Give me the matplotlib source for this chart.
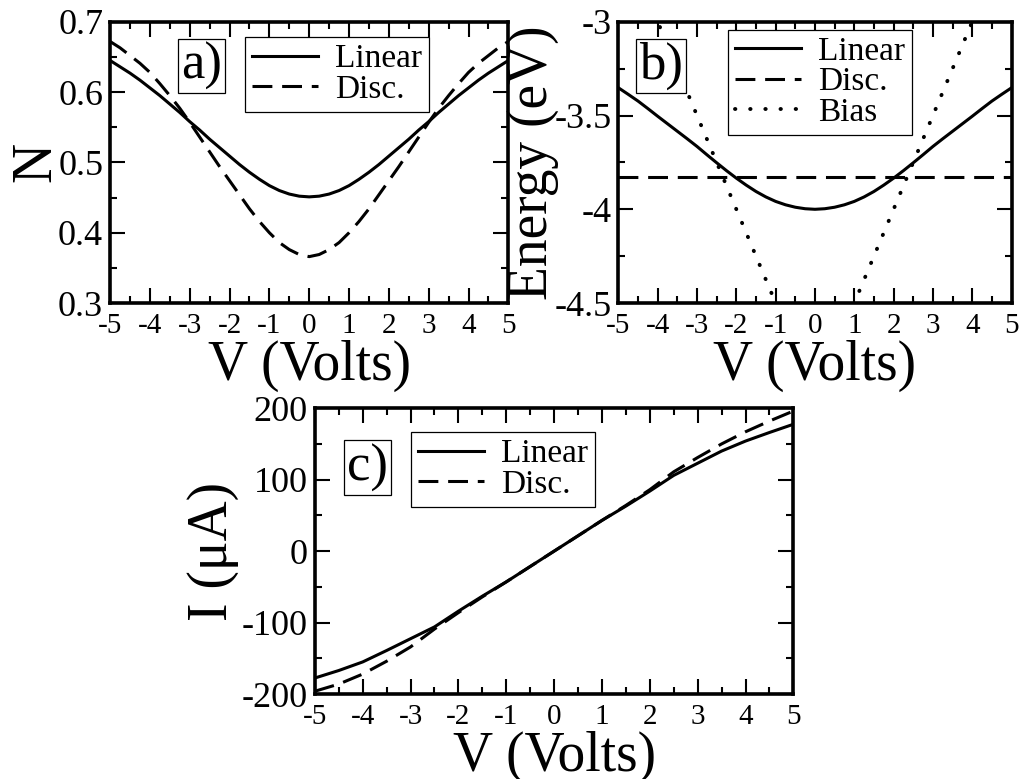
import matplotlib
matplotlib.use('Agg')
import matplotlib.pyplot as plt
from matplotlib.ticker import MultipleLocator, FormatStrFormatter

plt.rcParams['font.family'] = ['Liberation Serif', 'DejaVu Serif']
plt.rcParams['axes.unicode_minus'] = False

# bias voltage grids (Volts)
volts_fine = [-5, -4.75, -4.5, -4.25, -4, -3.75, -3.5, -3.25, -3, -2.75, -2.5,
              -2.25, -2, -1.75, -1.5, -1.25, -1, -0.75, -0.5, -0.25, 0,
              0.25, 0.5, 0.75, 1, 1.25, 1.5, 1.75, 2, 2.25, 2.5,
              2.75, 3, 3.25, 3.5, 3.75, 4, 4.25, 4.5, 4.75, 5]
volts = [-5, -4.5, -4, -3.5, -3, -2.5, -2, -1.5, -1, -0.5, 0,
         0.5, 1, 1.5, 2, 2.5, 3, 3.5, 4, 4.5, 5]

# a) occupation N
n_linear = [0.645, 0.636, 0.627, 0.617, 0.606, 0.595, 0.583, 0.571, 0.558, 0.546, 0.533,
            0.521, 0.509, 0.497, 0.486, 0.476, 0.467, 0.460, 0.455, 0.452, 0.451,
            0.452, 0.455, 0.460, 0.467, 0.476, 0.486, 0.497, 0.509, 0.521, 0.533,
            0.546, 0.558, 0.571, 0.583, 0.595, 0.606, 0.617, 0.627, 0.636, 0.645]
n_disc = [0.672, 0.663, 0.652, 0.641, 0.628, 0.612, 0.595, 0.577, 0.557, 0.536, 0.515,
          0.494, 0.474, 0.454, 0.434, 0.416, 0.400, 0.386, 0.376, 0.369, 0.366,
          0.369, 0.376, 0.386, 0.400, 0.416, 0.434, 0.454, 0.474, 0.494, 0.515,
          0.536, 0.557, 0.577, 0.595, 0.612, 0.628, 0.641, 0.652, 0.663, 0.672]

# b) level energy (eV)
e_linear = [-3.352, -3.387, -3.423, -3.463, -3.504, -3.544, -3.584, -3.624, -3.665, -3.709, -3.752,
            -3.794, -3.834, -3.871, -3.905, -3.934, -3.958, -3.976, -3.989, -3.997, -4.0,
            -3.997, -3.989, -3.976, -3.958, -3.934, -3.905, -3.871, -3.834, -3.794, -3.752,
            -3.709, -3.665, -3.624, -3.584, -3.544, -3.504, -3.463, -3.423, -3.387, -3.352]
e_disc_v = [-5, 5]
e_disc = [-3.83, -3.83]
bias_v = [-5, 0, 5]
bias_e = [-2.5, -5.0, -2.5]

# c) current (uA)
i_linear = [-177.5, -167, -155, -139, -122.5, -106, -84, -63, -43, -21.5, 0,
            21.5, 43, 63, 84, 106, 123, 140, 154, 166, 177.5]
i_disc = [-196, -186, -172, -154, -134, -109, -86, -64, -43, -21.5, 0,
          21.5, 43, 64, 86, 111, 131, 150, 167, 182, 196]

LW = 2.2
DASH = (0, (6.5, 3.2))
DOT = (0, (0.1, 3.8))
XTICK_FS = 21
YTICK_FS = 26
LABEL_FS = 40


def styleAxis(ax, ymin, ymax, ymaj, ymin_step):
	ax.set_xlim(-5, 5)
	ax.set_ylim(ymin, ymax)
	ax.xaxis.set_major_locator(MultipleLocator(1))
	ax.xaxis.set_minor_locator(MultipleLocator(0.5))
	ax.yaxis.set_major_locator(MultipleLocator(ymaj))
	ax.yaxis.set_minor_locator(MultipleLocator(ymin_step))
	ax.xaxis.set_major_formatter(FormatStrFormatter('%g'))
	ax.yaxis.set_major_formatter(FormatStrFormatter('%g'))
	ax.tick_params(which='both', direction='in', top=True, right=True, width=1.5)
	ax.tick_params(which='major', length=11)
	ax.tick_params(which='minor', length=5)
	ax.tick_params(axis='x', which='major', pad=7, labelsize=XTICK_FS)
	ax.tick_params(axis='y', which='major', pad=5, labelsize=YTICK_FS)
	for s in ax.spines.values():
		s.set_linewidth(2.6)
	ax.set_xlabel('V (Volts)', fontsize=LABEL_FS, labelpad=1)


def panelTag(ax, txt, x, y):
	ax.text(x, y, txt, transform=ax.transAxes, fontsize=38, ha='center', va='center',
			bbox=dict(boxstyle='square,pad=0.06', fc='white', ec='black', lw=0.9))


def legendBox(ax, x, y):
	leg = ax.legend(loc='upper left', bbox_to_anchor=(x, y), fontsize=24,
					handlelength=2.0, labelspacing=0.0, borderpad=0.2,
					borderaxespad=0.0, handletextpad=0.5, fancybox=False,
					framealpha=1)
	leg.get_frame().set_edgecolor('black')
	leg.get_frame().set_linewidth(0.9)


fig = plt.figure(figsize=(10.29, 7.79), dpi=100)
ax_a = fig.add_axes([0.107, 0.611, 0.387, 0.361])
ax_b = fig.add_axes([0.601, 0.611, 0.382, 0.361])
ax_c = fig.add_axes([0.306, 0.109, 0.465, 0.367])

# a) occupation
ax_a.plot(volts_fine, n_linear, color='black', lw=LW, label='Linear')
ax_a.plot(volts_fine, n_disc, color='black', lw=LW, ls=DASH, label='Disc.')
styleAxis(ax_a, 0.3, 0.7, 0.1, 0.05)
ax_a.set_ylabel('N', fontsize=LABEL_FS, labelpad=-3)
legendBox(ax_a, 0.339, 0.945)
panelTag(ax_a, 'a)', 0.229, 0.843)

# b) energy
ax_b.plot(volts_fine, e_linear, color='black', lw=LW, label='Linear')
ax_b.plot(e_disc_v, e_disc, color='black', lw=LW, ls=DASH, label='Disc.')
ax_b.plot(bias_v, bias_e, color='black', lw=2.8, ls=DOT, dash_capstyle='round',
		  label='Bias')
styleAxis(ax_b, -4.5, -3, 0.5, 0.25)
ax_b.set_ylabel('Energy (eV)', fontsize=LABEL_FS, labelpad=-3)
legendBox(ax_b, 0.279, 0.972)
panelTag(ax_b, 'b)', 0.109, 0.843)

# c) current
ax_c.plot(volts, i_linear, color='black', lw=LW, label='Linear')
ax_c.plot(volts, i_disc, color='black', lw=LW, ls=DASH, label='Disc.')
styleAxis(ax_c, -200, 200, 100, 50)
ax_c.set_ylabel('I (μA)', fontsize=LABEL_FS, labelpad=2)
legendBox(ax_c, 0.201, 0.916)
panelTag(ax_c, 'c)', 0.110, 0.792)

fig.savefig('out.png', dpi=100)
